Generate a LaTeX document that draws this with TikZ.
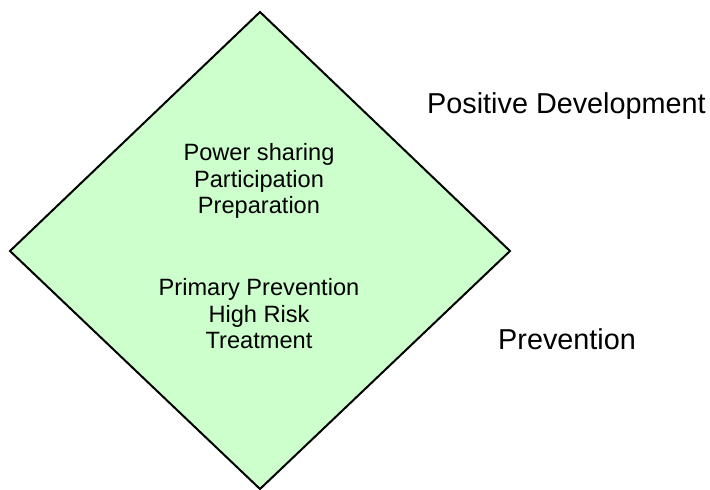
\documentclass[tikz,border=0pt]{standalone}
\usepackage{fontspec}
\setmainfont{Liberation Sans}
\definecolor{dgreen}{HTML}{CCFFCC}
\begin{document}
\begin{tikzpicture}[x=1pt,y=-1pt,
  inner/.style={anchor=base,inner sep=0pt,font=\fontsize{23.6}{26}\selectfont},
  outer/.style={anchor=base west,inner sep=0pt,font=\fontsize{28.8}{32}\selectfont}]
\useasboundingbox (0,0) rectangle (710,490);
\coordinate (T) at (260,12);
\coordinate (R) at (510,251);
\coordinate (B) at (260,489);
\coordinate (L) at (10,251);
\draw[line width=2pt,fill=dgreen,line join=miter] (T) -- (R) -- (B) -- (L) -- cycle;
\node[inner] (a1) at (259,160) {Power sharing};
\node[inner] (a2) at (259,187) {Participation};
\node[inner] (a3) at (259,213) {Preparation};
\node[inner] (b1) at (259,295) {Primary Prevention};
\node[inner] (b2) at (259,322) {High Risk};
\node[inner] (b3) at (259,348) {Treatment};
\node[outer] (pd) at (427,113) {Positive Development};
\node[outer] (pv) at (498,349) {Prevention};
\end{tikzpicture}
\end{document}
